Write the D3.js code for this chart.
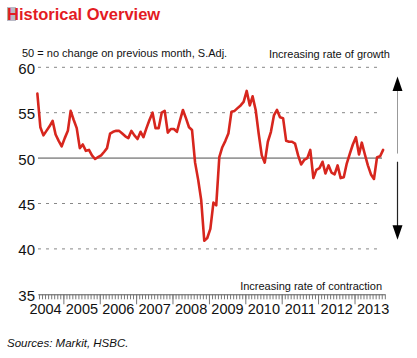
<!DOCTYPE html>
<html>
<head>
<meta charset="utf-8">
<script src="https://cdn.jsdelivr.net/npm/d3@7"></script>
<style>
html,body{margin:0;padding:0;background:#fff;}
svg{display:block;font-family:"Liberation Sans",Arial,sans-serif;}
</style>
</head>
<body>
<svg id="chart" width="417" height="358"></svg>
<script>
// ---- data ----
const startYear = 2004, startMonth = 4; // first observation: April 2004
const pmi = [
  // 2004 (Apr-Dec)
  57.1, 53.4, 52.5, 53.0, 53.5, 54.1, 52.6, 51.9, 51.3,
  // 2005
  52.2, 53.0, 55.2, 54.2, 53.3, 51.1, 51.5, 50.8, 50.9, 50.3, 49.9, 50.1,
  // 2006
  50.3, 50.7, 51.1, 52.7, 52.9, 53.0, 53.0, 52.7, 52.4, 52.2, 53.0, 52.5,
  // 2007
  52.1, 52.9, 52.3, 53.3, 54.2, 55.0, 53.3, 53.3, 55.0, 55.2, 52.8, 53.2,
  // 2008
  53.2, 52.9, 54.1, 55.3, 54.4, 53.4, 53.1, 49.5, 47.6, 45.4, 40.9, 41.2,
  // 2009
  42.2, 45.1, 44.8, 50.1, 51.2, 51.9, 52.7, 55.1, 55.2, 55.5, 55.8, 56.2,
  // 2010
  57.4, 55.8, 56.8, 55.3, 52.7, 50.3, 49.5, 51.8, 52.9, 54.7, 55.3, 54.5,
  // 2011
  54.4, 51.9, 51.8, 51.8, 51.6, 50.3, 49.3, 49.8, 50.0, 50.9, 47.8, 48.7,
  // 2012
  48.9, 49.6, 48.3, 49.2, 48.4, 48.2, 49.2, 47.8, 47.9, 49.4, 50.5, 51.5,
  // 2013 (Jan-Oct)
  52.3, 50.4, 51.7, 50.4, 49.2, 48.2, 47.7, 50.1, 50.2, 50.9
];
const yTicks = [35, 40, 45, 50, 55, 60];
const gridValues = [40, 45, 55, 60];
const yearLabels = [2004, 2005, 2006, 2007, 2008, 2009, 2010, 2011, 2012, 2013];
const titleText = "Historical Overview";
const subtitleText = "50 = no change on previous month, S.Adj.";
const growthText = "Increasing rate of growth";
const contractionText = "Increasing rate of contraction";
const sourceText = "Sources: Markit, HSBC.";

const data = pmi.map((v, i) => ({ date: new Date(startYear, startMonth - 1 + i, 15), value: v }));

// ---- scales ----
const svg = d3.select("#chart");
const x = d3.scaleTime()
  .domain([new Date(2004, 0, 1), new Date(2014, 0, 1)])
  .range([26.9, 390.9]);
const y = d3.scaleLinear().domain([35, 60]).range([294.3, 67.3]);

const plotLeft = 38, plotRight = 382;

// ---- title ----
svg.append("rect").attr("x", 7).attr("y", 7).attr("width", 9).attr("height", 14)
  .attr("fill", "#b9b9c6");
svg.append("text").attr("x", 7).attr("y", 20.3)
  .attr("font-size", 16.5).attr("font-weight", "bold").attr("fill", "#e31b23")
  .text(titleText);

// ---- subtitle texts ----
svg.append("text").attr("x", 22).attr("y", 57).attr("font-size", 11).attr("fill", "#111")
  .text(subtitleText);
svg.append("text").attr("x", 390).attr("y", 57.5).attr("font-size", 11).attr("fill", "#111")
  .attr("text-anchor", "end").text(growthText);
svg.append("text").attr("x", 382).attr("y", 289.5).attr("font-size", 11).attr("fill", "#111")
  .attr("text-anchor", "end").text(contractionText);

// ---- grid lines ----
svg.append("g").selectAll("line").data(gridValues).join("line")
  .attr("x1", plotLeft).attr("x2", plotRight)
  .attr("y1", d => y(d)).attr("y2", d => y(d))
  .attr("stroke", "#888").attr("stroke-width", 1).attr("stroke-dasharray", "3,5");
svg.append("line")
  .attr("x1", plotLeft).attr("x2", plotRight)
  .attr("y1", y(50)).attr("y2", y(50))
  .attr("stroke", "#9a9a9a").attr("stroke-width", 1.6);

// ---- y labels ----
svg.append("g").selectAll("text").data(yTicks).join("text")
  .attr("x", 35).attr("y", d => y(d) + 6.5)
  .attr("text-anchor", "end").attr("font-size", 15).attr("fill", "#111")
  .text(d => d);

// ---- x axis ----
const axisScale = x.copy().domain([new Date(2004, 3, 20), new Date(2013, 10, 1)])
  .range([x(new Date(2004, 3, 20)), x(new Date(2013, 10, 1))]);
const gx = svg.append("g").attr("transform", `translate(0,${y(35)})`);
gx.call(d3.axisBottom(axisScale).ticks(d3.timeMonth.every(1)).tickSize(5).tickSizeOuter(0).tickFormat(""));
gx.select(".domain").attr("stroke", "#555");
gx.selectAll(".tick line").attr("stroke", "#777");

const gMajor = svg.append("g").attr("transform", `translate(0,${y(35)})`);
gMajor.call(d3.axisBottom(axisScale).ticks(d3.timeYear.every(1)).tickSize(10).tickFormat(""));
gMajor.select(".domain").remove();
gMajor.selectAll(".tick line").attr("stroke", "#777");

const gLab = svg.append("g").attr("transform", `translate(0,${y(35)})`);
gLab.call(d3.axisBottom(x).tickValues(yearLabels.map(yr => new Date(yr, 6, 1)))
  .tickSize(0).tickPadding(9).tickFormat(d3.timeFormat("%Y")));
gLab.select(".domain").remove();
gLab.selectAll("text").attr("font-size", 14.5).attr("fill", "#111")
  .attr("font-family", "'Liberation Sans',Arial,sans-serif");

// ---- line ----
const line = d3.line().x(d => x(d.date)).y(d => y(d.value));
svg.append("path").datum(data).attr("d", line)
  .attr("fill", "none").attr("stroke", "#d7261e").attr("stroke-width", 2.6)
  .attr("stroke-linejoin", "round").attr("stroke-linecap", "round");

// ---- arrows ----
const ax = 397.5;
svg.append("line").attr("x1", ax).attr("x2", ax).attr("y1", y(58)).attr("y2", y(50.5))
  .attr("stroke", "#999").attr("stroke-width", 1);
svg.append("path")
  .attr("d", `M${ax},${y(59)} L${ax - 5},${y(57.4)} L${ax + 5},${y(57.4)} Z`).attr("fill", "#000");
svg.append("line").attr("x1", ax).attr("x2", ax).attr("y1", y(49.6)).attr("y2", y(42.5))
  .attr("stroke", "#222").attr("stroke-width", 1.2);
svg.append("path")
  .attr("d", `M${ax},${y(41)} L${ax - 5},${y(42.6)} L${ax + 5},${y(42.6)} Z`).attr("fill", "#000");

// ---- source ----
svg.append("text").attr("x", 7).attr("y", 347).attr("font-size", 11.5)
  .attr("font-style", "italic").attr("fill", "#111").text(sourceText);
</script>
</body>
</html>
